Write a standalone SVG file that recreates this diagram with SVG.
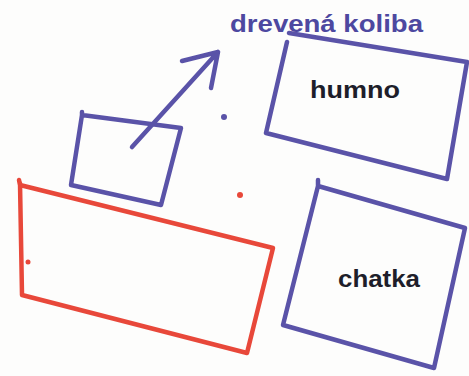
<svg xmlns="http://www.w3.org/2000/svg" width="469" height="376" viewBox="0 0 469 376">
<style>
.blue{fill:none;stroke:#5a53a8;stroke-width:4.5;stroke-linecap:round;stroke-linejoin:round}
.red{fill:none;stroke:#e8483a;stroke-width:4.5;stroke-linecap:round;stroke-linejoin:round}
.lbl{font-family:"Liberation Sans",Arial,sans-serif;font-weight:bold;font-size:24px}
</style>
<rect width="469" height="376" fill="#fdfdfc"/>
<g id="drevena-koliba">
<text class="lbl" x="230" y="32" fill="#4d48a0" textLength="193" lengthAdjust="spacingAndGlyphs">drevená koliba</text>
</g>
<g id="humno">
<path class="blue" d="M289,33 L467,62 L447,179 L266,133 L287,42"/>
<text class="lbl" x="310" y="98" fill="#1e1e2a" textLength="90" lengthAdjust="spacingAndGlyphs">humno</text>
</g>
<g id="small-box">
<path class="blue" d="M82,112 L82,116 M82,115 L181,128 L161,205 L71,185 L82,115"/>
</g>
<g id="red-box">
<path class="red" d="M19,180 L20,185 L273,248 L247,353 L22,295 L20,183"/>
<circle cx="28" cy="262" r="2.5" fill="#e8483a"/>
</g>
<g id="chatka">
<path class="blue" d="M318,180 L318,186 L465,228 L434,368 L283,325 L318,186"/>
<text class="lbl" x="338" y="287" fill="#1e1e2a" textLength="82" lengthAdjust="spacingAndGlyphs">chatka</text>
</g>
<g id="dots">
<circle cx="224" cy="117" r="3" fill="#5a53a8"/>
<circle cx="240" cy="195" r="3" fill="#e8483a"/>
</g>
<g id="connectors">
<path class="blue" d="M132,147 L218,52 M182,61 L218,52 L211,88"/>
</g>
</svg>
